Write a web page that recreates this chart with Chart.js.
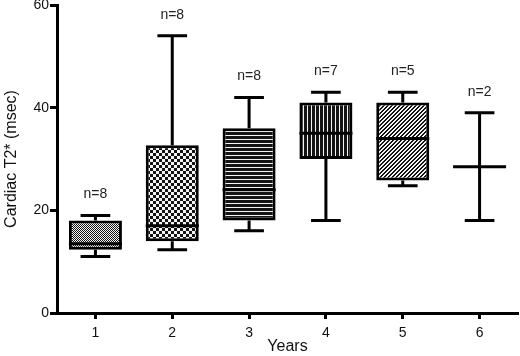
<!DOCTYPE html>
<html>
<head>
<meta charset="utf-8">
<script src="https://cdn.jsdelivr.net/npm/chart.js@4"></script>
<style>
  html, body { margin: 0; padding: 0; background: #fff; }
  #wrap { width: 520px; height: 356px; }
</style>
</head>
<body>
<div id="wrap"><canvas id="t2Chart"></canvas></div>
<script>
const years = ['1', '2', '3', '4', '5', '6'];
const minVals = [11, 12.3, 16, 18, 24.8, 18];
const q1Vals = [12.3, 14, 18, 30, 25.8, null];
const medianVals = [13.5, 17, 24, 35, 34, 28.5];
const q3Vals = [18, 32.7, 36, 41, 41, null];
const maxVals = [19, 54, 42, 43, 43, 39];
const nCounts = [8, 8, 8, 7, 5, 2];
const yTicks = [0, 20, 40, 60];

const ctx = document.getElementById('t2Chart').getContext('2d');
const fontFam = '"Liberation Sans", Arial, sans-serif';

// small tile -> canvas pattern
function makePattern(w, h, isBlack) {
    const c = document.createElement('canvas');
    c.width = w;
    c.height = h;
    const cx = c.getContext('2d');
    const img = cx.createImageData(w, h);
    for (let y = 0; y < h; y++) {
        for (let x = 0; x < w; x++) {
            const v = isBlack(x, y) ? 20 : 245;
            const i = (y * w + x) * 4;
            img.data[i] = v; img.data[i + 1] = v; img.data[i + 2] = v; img.data[i + 3] = 255;
        }
    }
    cx.putImageData(img, 0, 0);
    return ctx.createPattern(c, 'repeat');
}

const patterns = [
    makePattern(2, 2, (x, y) => (x + y) % 2 === 0),
    makePattern(6, 6, (x, y) => (x < 3) === (y < 3)),
    makePattern(1, 4, (x, y) => y < 3),
    makePattern(4, 1, (x, y) => x < 3),
    makePattern(4, 4, (x, y) => (x + y) % 4 < 2),
    '#fff'
];

const boxData = years.map((_, i) => q1Vals[i] === null ? null : [q1Vals[i], q3Vals[i]]);

const whiskerPlugin = {
    id: 'whiskers',
    afterDatasetsDraw(chart) {
        const xs = chart.scales.x;
        const ys = chart.scales.y;
        const meta = chart.getDatasetMeta(0);
        const boxW = meta.data[0].width;
        const c = chart.ctx;
        c.save();
        c.strokeStyle = '#000';
        c.lineWidth = 3;
        c.lineCap = 'butt';
        years.forEach((_, i) => {
            const x = xs.getPixelForValue(i);
            const top = q3Vals[i] === null ? medianVals[i] : q3Vals[i];
            const bot = q1Vals[i] === null ? medianVals[i] : q1Vals[i];
            const capW = boxW * 0.56;
            c.beginPath();
            c.moveTo(x, ys.getPixelForValue(top));
            c.lineTo(x, ys.getPixelForValue(maxVals[i]));
            c.moveTo(x - capW / 2, ys.getPixelForValue(maxVals[i]));
            c.lineTo(x + capW / 2, ys.getPixelForValue(maxVals[i]));
            c.moveTo(x, ys.getPixelForValue(bot));
            c.lineTo(x, ys.getPixelForValue(minVals[i]));
            c.moveTo(x - capW / 2, ys.getPixelForValue(minVals[i]));
            c.lineTo(x + capW / 2, ys.getPixelForValue(minVals[i]));
            const ym = ys.getPixelForValue(medianVals[i]);
            c.moveTo(x - boxW / 2, ym);
            c.lineTo(x + boxW / 2, ym);
            c.stroke();

            c.fillStyle = '#222';
            c.font = '14px ' + fontFam;
            c.textAlign = 'center';
            c.textBaseline = 'middle';
            c.fillText('n=' + nCounts[i], x, ys.getPixelForValue(maxVals[i]) - 21);
        });
        c.restore();
    }
};

new Chart(ctx, {
    type: 'bar',
    data: {
        labels: years,
        datasets: [{
            data: boxData,
            backgroundColor: patterns,
            borderColor: '#000',
            borderWidth: 3,
            borderSkipped: false,
            barPercentage: 0.69,
            categoryPercentage: 1
        }]
    },
    options: {
        responsive: true,
        maintainAspectRatio: false,
        animation: false,
        layout: { padding: { top: 5, right: 2, left: 0, bottom: 0 } },
        plugins: {
            legend: { display: false },
            tooltip: { enabled: false }
        },
        scales: {
            x: {
                offset: true,
                afterFit: scale => { scale.height = 43; },
                grid: { display: true, drawOnChartArea: false, drawTicks: true, tickLength: 6, tickWidth: 3, tickColor: '#000', offset: false },
                border: { display: true, width: 3, color: '#000' },
                ticks: { color: '#111', padding: 6, font: { family: fontFam, size: 14 } },
                title: { display: true, text: 'Years', color: '#111', padding: { top: 0, bottom: 0 }, font: { family: fontFam, size: 16 } }
            },
            y: {
                min: 0,
                max: 60,
                afterBuildTicks: scale => { scale.ticks = yTicks.map(v => ({ value: v })); },
                afterFit: scale => { scale.width = 57; scale.paddingTop = 0; scale.paddingBottom = 0; },
                grid: { display: true, drawOnChartArea: false, drawTicks: true, tickLength: 7, tickWidth: 3, tickColor: '#000' },
                border: { display: true, width: 3, color: '#000' },
                ticks: { color: '#111', padding: 1, font: { family: fontFam, size: 14 } },
                title: { display: true, text: 'Cardiac T2* (msec)', color: '#111', padding: { top: 2, bottom: 2 }, font: { family: fontFam, size: 16 } }
            }
        }
    },
    plugins: [whiskerPlugin]
});
</script>
</body>
</html>
